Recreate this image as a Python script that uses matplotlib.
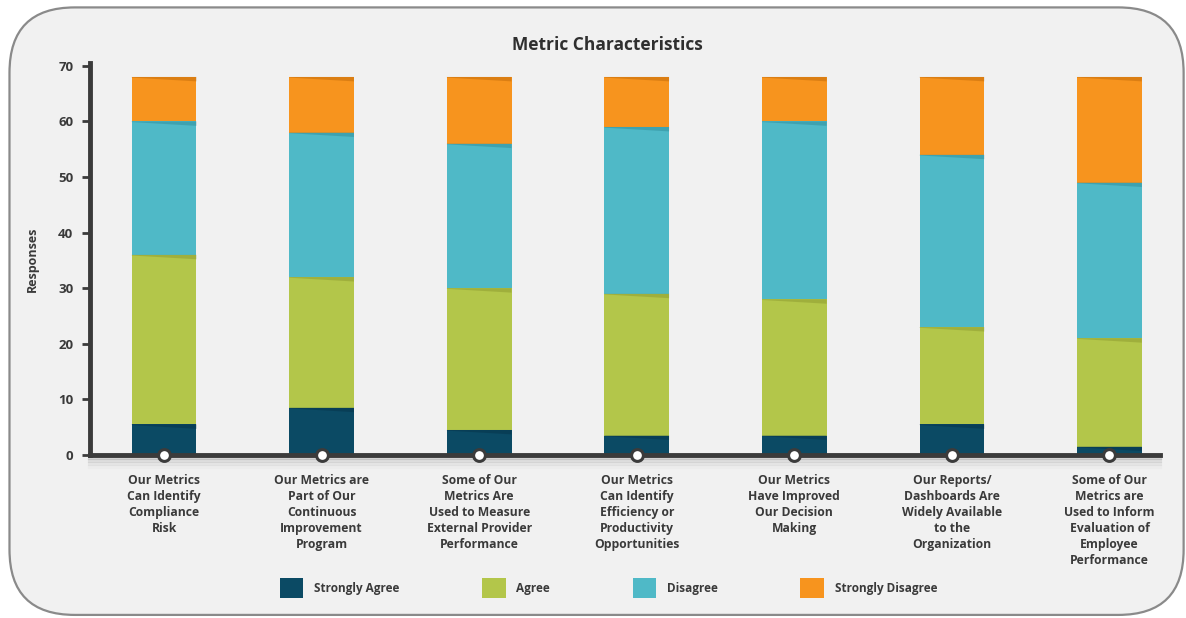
import numpy as np
import matplotlib.pyplot as plt
from matplotlib.patches import FancyBboxPatch, Patch

categories = [
    "Our Metrics\nCan Identify\nCompliance\nRisk",
    "Our Metrics are\nPart of Our\nContinuous\nImprovement\nProgram",
    "Some of Our\nMetrics Are\nUsed to Measure\nExternal Provider\nPerformance",
    "Our Metrics\nCan Identify\nEfficiency or\nProductivity\nOpportunities",
    "Our Metrics\nHave Improved\nOur Decision\nMaking",
    "Our Reports/\nDashboards Are\nWidely Available\nto the\nOrganization",
    "Some of Our\nMetrics are\nUsed to Inform\nEvaluation of\nEmployee\nPerformance",
]
strongly_agree = [5.5, 8.5, 4.5, 3.5, 3.5, 5.5, 1.5]
agree = [30.5, 23.5, 25.5, 25.5, 24.5, 17.5, 19.5]
disagree = [24, 26, 26, 30, 32, 31, 28]
strongly_disagree = [8, 10, 12, 9, 8, 14, 19]
series_names = ["Strongly Agree", "Agree", "Disagree", "Strongly Disagree"]
colors = ["#0b4a64", "#b3c64a", "#4fb9c7", "#f7941e"]
shade = ["#06334a", "#8c9a30", "#2f8c99", "#c06a0a"]
yticks = [0, 10, 20, 30, 40, 50, 60, 70]

plt.rcParams['font.family'] = ['Open Sans', 'DejaVu Sans']
axis_col = "#3b3b3b"
text_col = "#3a3a3a"

fig = plt.figure(figsize=(11.86, 6.18), dpi=100)
fig.patch.set_facecolor("white")

# rounded grey panel behind everything
panel = FancyBboxPatch((0.008, 0.005), 0.99, 0.983,
                       boxstyle="round,pad=0,rounding_size=0.055",
                       transform=fig.transFigure, facecolor="#f1f1f1",
                       edgecolor="#8a8a8a", linewidth=1.6,
                       mutation_aspect=1186 / 618, zorder=-5)
fig.patches.append(panel)

ax = fig.add_axes([0.0759, 0.2638, 0.9021, 0.6342], zorder=2)
ax.set_facecolor("none")

x = np.arange(len(categories))
width = 0.41
data = [strongly_agree, agree, disagree, strongly_disagree]
bottom = np.zeros(len(categories))
for vals, name, c, sc in zip(data, series_names, colors, shade):
    vals = np.array(vals, dtype=float)
    ax.bar(x, vals, width, bottom=bottom, color=c, label=name, zorder=2)
    # small folded shadow along the top of each segment
    top = bottom + vals
    for xi, t in zip(x, top):
        xs = [xi - width / 2, xi + width / 2, xi + width / 2, xi - width / 2]
        ys = [t, t, t - 0.8, t - 0.12]
        ax.fill(xs, ys, color=sc, alpha=0.5, lw=0, zorder=3)
    bottom = top

ax.set_xlim(-0.47, 6.32)
ax.set_ylim(0, 70.5)
ax.set_yticks(yticks)
ax.set_xticks(x)
ax.set_xticklabels(categories, fontsize=8.7, fontweight="bold",
                   color=text_col, linespacing=1.3, va="top")
ax.tick_params(axis="x", length=0, pad=14)
ax.tick_params(axis="y", length=6, width=2, color=axis_col, pad=6,
               labelsize=9.5, labelcolor=text_col)
for lab in ax.get_yticklabels():
    lab.set_fontweight("bold")

for side in ["top", "right"]:
    ax.spines[side].set_visible(False)
for side in ["left", "bottom"]:
    ax.spines[side].set_color(axis_col)
    ax.spines[side].set_linewidth(3.5)
    ax.spines[side].set_zorder(4)

# soft shadow under the baseline
for i, a in enumerate([0.18, 0.12, 0.07, 0.03]):
    ax.axhline(-0.6 - i * 0.55, xmin=0.0, xmax=1.0, color="#555555",
               alpha=a, lw=3, clip_on=False, zorder=1)

ax.plot(x, np.zeros(len(x)), "o", ms=8.5, mfc="white", mec=axis_col,
        mew=2.2, clip_on=False, zorder=6)

ax.set_ylabel("Responses", fontsize=9, fontweight="bold", color=text_col,
              labelpad=14)
fig.text(0.512, 0.927, "Metric Characteristics", ha="center", va="center",
         fontsize=12.5, fontweight="bold", color="#2f2f2f")

handles = [Patch(facecolor=c, label=n) for c, n in zip(colors, series_names)]
fig.legend(handles=handles, loc="center", bbox_to_anchor=(0.513, 0.048),
           ncol=4, frameon=False, handlelength=2.0, handleheight=2.2,
           handletextpad=0.9, columnspacing=7.0,
           prop={"size": 8.5, "weight": "bold"}, labelcolor=text_col)

fig.savefig("out.png", dpi=100, facecolor=fig.get_facecolor())
